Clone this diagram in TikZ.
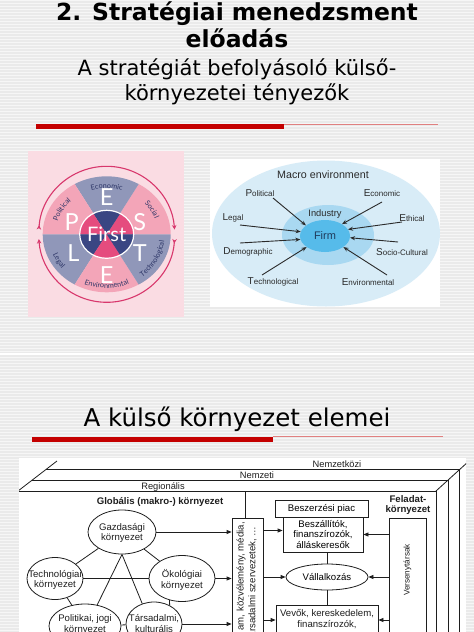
\documentclass[tikz,border=0pt]{standalone}
\usepackage{fontspec}
\setmainfont{DejaVu Sans}
\newfontfamily\libsans{Liberation Sans}
\newfontfamily\latofont{Lato}
\usetikzlibrary{arrows.meta,decorations.text,shapes.geometric,calc}

\definecolor{bgA}{HTML}{EAEAEA}
\definecolor{bgB}{HTML}{F6F6F6}
\definecolor{slidered}{HTML}{C40000}
\definecolor{thinred}{HTML}{E08080}
\definecolor{pestbg}{HTML}{FADCE3}
\definecolor{pestgray}{HTML}{9097B9}
\definecolor{pestpink}{HTML}{F3A5B8}
\definecolor{pestnavy}{HTML}{3A4683}
\definecolor{pesthot}{HTML}{E54C7E}
\definecolor{pesttext}{HTML}{2C3566}
\definecolor{pestring}{HTML}{D8376C}
\definecolor{macA}{HTML}{D8ECF7}
\definecolor{macB}{HTML}{A9D8F1}
\definecolor{macC}{HTML}{56BBEA}
\definecolor{macink}{HTML}{2A2A2A}
\definecolor{firmink}{HTML}{1F3B5C}
\definecolor{ink}{HTML}{1E1E1E}

\newcommand\dfont{\libsans\fontsize{9.6}{10.5}\selectfont}
\newcommand\pestlab{\latofont\fontsize{7.2}{7.2}\selectfont\color{pesttext}}
\newcommand\mlab[2]{{\fontsize{10}{10}\selectfont #1}{\fontsize{8}{8}\selectfont #2}}

\begin{document}
\begin{tikzpicture}[x=1pt,y=-1pt,
  ln/.style={draw=ink, line width=0.8pt},
  arr/.style={draw=ink, line width=0.8pt, -{Triangle[length=5pt,width=4pt]}},
  dell/.style={ellipse, draw=ink, fill=white, line width=0.8pt, inner sep=0pt, align=center, font=\dfont},
  dbox/.style={rectangle, draw=ink, fill=white, line width=0.8pt, inner sep=0pt, align=center, font=\dfont},
  dtxt/.style={inner sep=0pt, font=\dfont, text=ink, align=center},
  marr/.style={draw=macink, line width=0.9pt, -{Stealth[length=5pt,width=4pt]}},
  mlabel/.style={inner sep=0pt, text=macink, font=\libsans},
  pestletter/.style={text=white, font=\latofont\fontsize{23.5}{24}\selectfont, inner sep=0pt},
  ringarc/.style={draw=pestring, line width=1.1pt, {Stealth[length=4.5pt,width=4.5pt,reversed]}-{Stealth[length=4.5pt,width=4.5pt]}},
  slidetitle/.style={inner sep=0pt, anchor=base, text=black}
]
\useasboundingbox (0,0) rectangle (474,632);
% background
\fill[bgA] (0,0) rectangle (474,632);
\foreach \yy in {0,3,...,630} {\fill[bgB] (0,\yy) rectangle (474,\yy+1.3);}
\draw[white, line width=1.2pt] (0,354) -- (474,354);

% ---------- slide 1 titles ----------
\node[slidetitle, font=\fontsize{23.5}{26}\selectfont\bfseries] (t1) at (237,20.7) {2. Stratégiai menedzsment};
\node[slidetitle, font=\fontsize{23.5}{26}\selectfont\bfseries] (t2) at (237,47) {előadás};
\node[slidetitle, font=\fontsize{21}{24}\selectfont] (t3) at (237,75) {A stratégiát befolyásoló külső-};
\node[slidetitle, font=\fontsize{21}{24}\selectfont] (t4) at (237,100) {környezetei tényezők};
\fill[slidered] (36,124) rectangle (284,129.3);
\draw[thinred, line width=0.7pt] (284,124.3) -- (438,124.3);

% ---------- PEST wheel ----------
\fill[pestbg] (28,151) rectangle (184,317);
\begin{scope}[shift={(106.7pt,-234.3pt)}, x=1pt, y=1pt]
  \foreach \a/\c in {0/pestpink,60/pestgray,120/pestpink,180/pestgray,240/pestpink,300/pestgray}
    \fill[\c] (0,0) -- (\a:64 and 58) arc[start angle=\a, end angle=\a+60, x radius=64, y radius=58] -- cycle;
  \foreach \a/\c in {0/pesthot,60/pestnavy,120/pesthot,180/pestnavy,240/pesthot,300/pestnavy}
    \fill[\c] (0,0) -- (\a:27 and 24) arc[start angle=\a, end angle=\a+60, x radius=27, y radius=24] -- cycle;
  \draw[white, line width=1.2pt] (0,0) ellipse[x radius=27, y radius=24];
  \node[pestletter] (pP) at (-35,12.6) {P};
  \node[pestletter] (pE1) at (0,37.6) {E};
  \node[pestletter] (pS) at (33,12.6) {S};
  \node[pestletter] (pT) at (33,-19) {T};
  \node[pestletter] (pL) at (-33.4,-19) {L};
  \node[pestletter] (pE2) at (0,-40.5) {E};
  \node[text=white, font=\latofont\fontsize{20}{20}\selectfont, inner sep=0pt] (pFirst) at (0,0) {First};
  % curved labels
  \path[decorate, decoration={text along path, text={|\pestlab|Economic}, text align=center}]
    (130:51 and 46) arc[start angle=130, end angle=50, x radius=51, y radius=46];
  \path[decorate, decoration={text along path, text={|\pestlab|Political}, text align=center}]
    (190:51 and 46) arc[start angle=190, end angle=110, x radius=51, y radius=46];
  \path[decorate, decoration={text along path, text={|\pestlab|Social}, text align=center}]
    (70:51 and 46) arc[start angle=70, end angle=-10, x radius=51, y radius=46];
  \path[decorate, decoration={text along path, text={|\pestlab|Technological}, text align=center}]
    (-72:58 and 54) arc[start angle=-72, end angle=14, x radius=58, y radius=54];
  \path[decorate, decoration={text along path, text={|\pestlab|Environmental}, text align=center}]
    (-133:58 and 54) arc[start angle=-133, end angle=-47, x radius=58, y radius=54];
  \path[decorate, decoration={text along path, text={|\pestlab|Legal}, text align=center}]
    (170:58 and 54) arc[start angle=170, end angle=250, x radius=58, y radius=54];
  % ring arrows
  \draw[ringarc] (176:68) arc[start angle=176, end angle=4, radius=68];
  \draw[ringarc] (-4:68) arc[start angle=-4, end angle=-176, radius=68];
\end{scope}

% ---------- Macro environment ----------
\fill[white] (210,159) rectangle (440,307);
\node[ellipse, fill=macA, minimum width=228pt, minimum height=146pt, inner sep=0pt] (macro) at (326,233.5) {};
\node[ellipse, fill=macB, minimum width=92pt, minimum height=60pt, inner sep=0pt] (ind) at (328,235) {};
\node[ellipse, fill=macC, minimum width=50pt, minimum height=32pt, inner sep=0pt, text=firmink, font=\libsans\fontsize{11}{11}\selectfont] (firm) at (325,236) {Firm};
\node[mlabel, font=\libsans\fontsize{10.7}{11}\selectfont] (mtitle) at (323,175) {Macro environment};
\node[mlabel, font=\libsans\fontsize{9.3}{10}\selectfont] (mind) at (325,214) {Industry};
\node[mlabel] (mP) at (260,193) {\mlab{P}{olitical}};
\node[mlabel] (mEc) at (382,193) {\mlab{E}{conomic}};
\node[mlabel] (mL) at (233,218) {\mlab{L}{egal}};
\node[mlabel] (mEt) at (412,218) {\mlab{E}{thical}};
\node[mlabel] (mD) at (248,252) {\mlab{D}{emographic}};
\node[mlabel] (mS) at (402,252) {\mlab{S}{ocio-Cultural}};
\node[mlabel] (mT) at (273,282) {\mlab{T}{echnological}};
\node[mlabel] (mEn) at (368,282) {\mlab{E}{nvironmental}};
\coordinate (aP) at (273,198);
\coordinate (aEc) at (382,202);
\coordinate (aL) at (240,225);
\coordinate (aEt) at (402,222);
\coordinate (aD) at (240,243);
\coordinate (aS) at (398,242);
\coordinate (aT) at (262,275);
\coordinate (aEn) at (387,275);
\draw[marr] (aP) -- (firm.151);
\draw[marr] (aEc) -- (firm.35);
\draw[marr] (aL) -- (firm.170);
\draw[marr] (aEt) -- (firm.16);
\draw[marr] (aD) -- (firm.188);
\draw[marr] (aS) -- (firm.-4);
\draw[marr] (aT) -- (firm.211);
\draw[marr] (aEn) -- (firm.-31);

% ---------- slide 2 ----------
\node[slidetitle, font=\fontsize{24.5}{26}\selectfont] (t5) at (237,426) {A külső környezet elemei};
\fill[slidered] (32,437) rectangle (273,442);
\draw[thinred, line width=0.7pt] (273,436.5) -- (443,436.5);

\begin{scope}
\clip (19,458) rectangle (466,632);
\fill[white] (19,458) rectangle (466,632);
% perspective frame
\coordinate (sl1) at (57,461);   \coordinate (sl2) at (18,491);
\coordinate (sr1) at (469,461);  \coordinate (sr2) at (436,491);
\coordinate (h1l) at (46,469.5); \coordinate (h1r) at (459.6,469.5);
\coordinate (h2l) at (32.3,480); \coordinate (h2r) at (448.1,480);
\coordinate (h3l) at (18,491);   \coordinate (h3r) at (436,491);
\coordinate (bot) at (0,645);
\draw[ln] (sl1) -- (sl2);
\draw[ln] (sr1) -- (sr2);
\draw[ln] (h1l) -- (h1r) -- (h1r |- bot);
\draw[ln] (h2l) -- (h2r) -- (h2r |- bot);
\draw[ln] (h3l) -- (h3r) -- (h3r |- bot);
\node[dtxt, anchor=base, font=\libsans\fontsize{9.3}{10}\selectfont] (lNk) at (337,467.3) {Nemzetközi};
\node[dtxt, anchor=base, font=\libsans\fontsize{9.3}{10}\selectfont] (lNz) at (257,478.3) {Nemzeti};
\node[dtxt, anchor=base, font=\libsans\fontsize{9.3}{10}\selectfont] (lRg) at (163,489.2) {Regionális};
\node[dtxt, anchor=base, font=\libsans\bfseries\fontsize{9.6}{10}\selectfont] (lGl) at (160,504) {Globális (makro-) környezet};
\node[dtxt, anchor=base, font=\libsans\bfseries\fontsize{9.6}{10}\selectfont] (lF1) at (408,502.7) {Feladat-};
\node[dtxt, anchor=base, font=\libsans\bfseries\fontsize{9.6}{10}\selectfont] (lF2) at (408,512.7) {környezet};

% macro ellipses
\node[dell, minimum width=68pt, minimum height=44pt] (gaz) at (122,532) {};
\node[dtxt] (gazT) at (122,533) {Gazdasági\\környezet};
\node[dell, minimum width=56pt, minimum height=42pt] (tech) at (55,578.5) {};
\node[dtxt] (techT) at (55,580) {Technológiai\\környezet};
\node[dell, minimum width=66pt, minimum height=46pt] (ok) at (182,578.5) {};
\node[dtxt] (okT) at (182,580) {Ökológiai\\környezet};
\node[dell, minimum width=72pt, minimum height=44pt] (pol) at (85,626) {};
\node[dtxt] (polT) at (85,624.5) {Politikai, jogi\\környezet};
\node[dell, minimum width=56pt, minimum height=44pt] (tar) at (154,624) {};
\node[dtxt] (tarT) at (154,623.5) {Társadalmi,\\kulturális};
\draw[ln] (gaz) -- (tech);
\draw[ln] (gaz) -- (ok);
\draw[ln] (tech) -- (ok);
\draw[ln] (gaz.south) -- (pol.60);
\draw[ln] (gaz.south) -- (tar.120);
\draw[ln] (tech) -- (pol);
\draw[ln] (ok.-120) -- (tar.50);
\draw[ln] (pol) -- (tar);

% middle vertical box
\node[dbox, minimum width=31pt, minimum height=130pt, anchor=north] (vbox) at (247.5,518) {};
\node[dtxt, rotate=90, anchor=east, font=\libsans\fontsize{9.6}{10}\selectfont] (vT1) at (241,522) {am, közvélemény, média,};
\node[dtxt, rotate=90, anchor=east, font=\libsans\fontsize{9.6}{10}\selectfont] (vT2) at (252.5,526.5) {ársadalmi szervezetek, \dots};
\coordinate (vtop) at (245,491);
\draw[ln] (vtop) -- (vtop |- vbox.north);

% task environment
\node[dbox, minimum width=93pt, minimum height=17pt] (bpiac) at (321.5,508.5) {Beszerzési piac};
\node[dbox, minimum width=80pt, minimum height=35pt] (bes) at (323,534.5) {Beszállítók,\\finanszírozók,\\álláskeresők};
\node[dell, minimum width=82pt, minimum height=26pt] (val) at (327,577) {Vállalkozás};
\node[dbox, minimum width=102pt, minimum height=45pt, anchor=north] (vev) at (327,605) {};
\node[dtxt, anchor=north] (vevT) at ([yshift=-4.5pt]vev.north) {Vevők, kereskedelem,\\finanszírozók,};
\node[dbox, minimum width=37pt, minimum height=130pt, anchor=north] (comp) at (407.5,518) {};
\node[dtxt, rotate=90, font=\libsans\fontsize{8.2}{9}\selectfont] (compT) at (407.5,570) {Versenytársak};

\draw[ln] (val.north |- bes.south) -- (val.north);
\draw[ln] (val.south) -- (vev.north);

% arrows into the vertical box
\draw[arr] (gaz.east) -- (gaz.east -| vbox.west);
\draw[arr] (ok.east) -- (ok.east -| vbox.west);
\draw[arr] (tar.east) -- (tar.east -| vbox.west);
% arrows from the vertical box
\draw[arr] ([yshift=4pt]bes.west -| vbox.east) -- ([yshift=4pt]bes.west);
\draw[arr] (val.west -| vbox.east) -- (val.west);
\draw[arr] ([yshift=-15pt]vev.north west -| vbox.east) -- ([yshift=-15pt]vev.north west);
% arrows from competitors
\draw[arr] (bes.east -| comp.west) -- (bes.east);
\draw[arr] (val.east -| comp.west) -- (val.east);
\draw[arr] ([yshift=-15pt]vev.north east -| comp.west) -- ([yshift=-15pt]vev.north east);
\end{scope}
\end{tikzpicture}
\end{document}
